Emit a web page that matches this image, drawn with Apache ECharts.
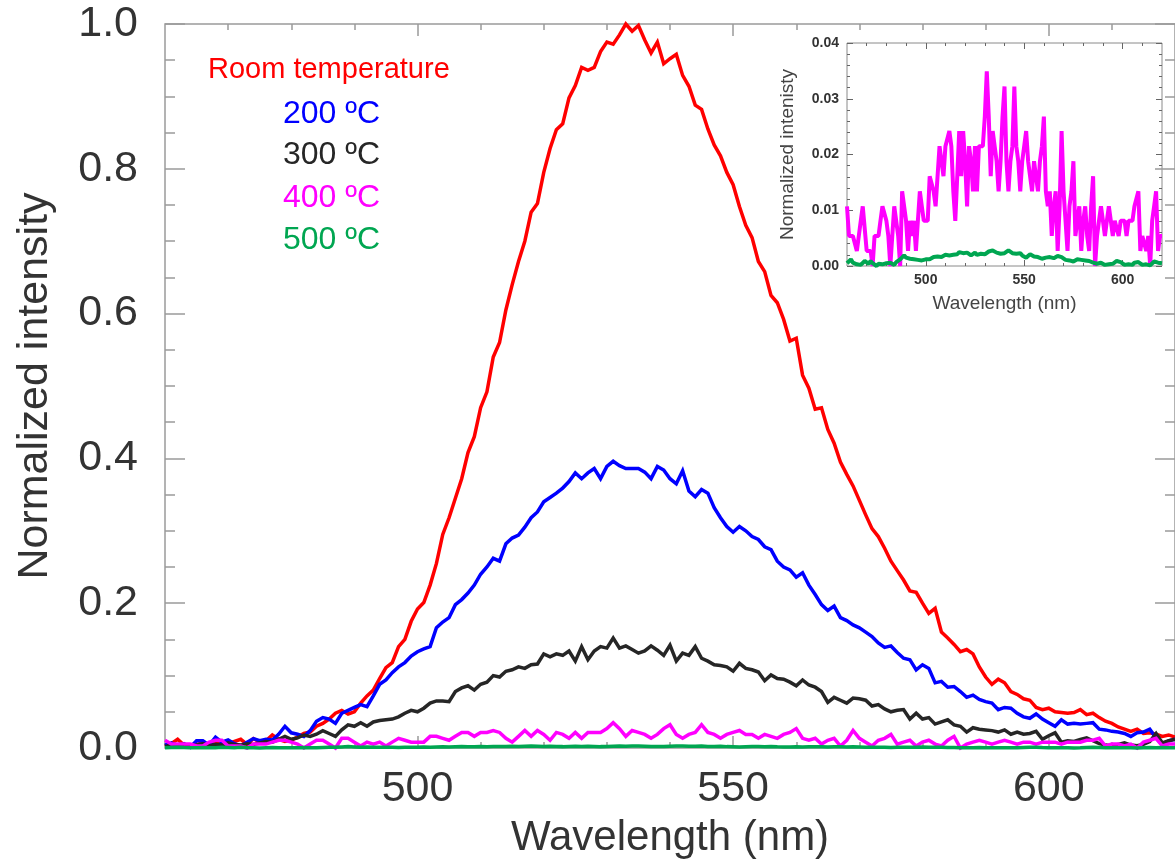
<!DOCTYPE html>
<html><head><meta charset="utf-8">
<script src="https://cdn.jsdelivr.net/npm/echarts@6/dist/echarts.min.js"></script>
<style>html,body{margin:0;padding:0;background:#fff}#c{width:1175px;height:864px}</style>
</head><body><div id="c"></div>
<script>
// wavelength sampling (nm)
const wlStart = 460, wlEnd = 620, wlStep = 1;

// Room temperature
const roomTemp = [
0.003,0.006,0.012,0.004,0.002,0.005,0.007,0.003,0.008,0.004,
0.006,0.009,0.012,0.005,0.013,0.008,0.010,0.018,0.012,0.009,
0.011,0.015,0.020,0.022,0.030,0.034,0.040,0.048,0.052,0.047,
0.050,0.062,0.072,0.080,0.096,0.111,0.118,0.140,0.150,0.175,
0.192,0.201,0.225,0.255,0.295,0.318,0.345,0.372,0.408,0.430,
0.470,0.492,0.540,0.560,0.605,0.640,0.672,0.700,0.740,0.752,
0.795,0.828,0.854,0.862,0.898,0.915,0.940,0.936,0.940,0.962,
0.975,0.972,0.985,1.000,0.990,0.998,0.978,0.960,0.975,0.945,
0.952,0.958,0.929,0.914,0.888,0.882,0.855,0.833,0.818,0.795,
0.778,0.748,0.722,0.705,0.672,0.658,0.625,0.615,0.592,0.562,
0.566,0.515,0.497,0.468,0.470,0.440,0.421,0.395,0.378,0.362,
0.342,0.322,0.303,0.292,0.276,0.258,0.245,0.232,0.217,0.215,
0.200,0.186,0.193,0.160,0.152,0.143,0.133,0.136,0.130,0.112,
0.098,0.088,0.095,0.090,0.078,0.074,0.068,0.066,0.056,0.053,
0.055,0.050,0.049,0.048,0.049,0.053,0.046,0.048,0.042,0.037,
0.034,0.029,0.026,0.023,0.026,0.020,0.021,0.019,0.016,0.018,
0.015];

// 200 ºC
const t200 = [
0.004,0.007,0.002,0.006,0.001,0.010,0.010,0.004,0.015,0.008,
0.011,0.006,0.003,0.008,0.013,0.010,0.012,0.011,0.019,0.030,
0.021,0.019,0.016,0.024,0.037,0.042,0.040,0.034,0.048,0.052,
0.056,0.060,0.057,0.072,0.088,0.094,0.104,0.112,0.118,0.127,
0.133,0.137,0.140,0.166,0.174,0.180,0.198,0.205,0.214,0.225,
0.240,0.250,0.262,0.258,0.282,0.290,0.294,0.305,0.318,0.326,
0.340,0.346,0.352,0.359,0.368,0.380,0.372,0.380,0.386,0.372,
0.389,0.396,0.390,0.386,0.386,0.386,0.381,0.372,0.389,0.384,
0.372,0.365,0.383,0.355,0.347,0.357,0.352,0.332,0.318,0.306,
0.298,0.306,0.300,0.292,0.288,0.278,0.274,0.258,0.250,0.246,
0.236,0.242,0.225,0.212,0.198,0.190,0.196,0.180,0.176,0.170,
0.166,0.160,0.154,0.145,0.139,0.141,0.132,0.124,0.122,0.108,
0.115,0.110,0.090,0.092,0.084,0.085,0.078,0.070,0.073,0.067,
0.064,0.062,0.053,0.056,0.055,0.048,0.043,0.041,0.047,0.040,
0.035,0.030,0.039,0.033,0.034,0.033,0.034,0.035,0.026,0.025,
0.023,0.022,0.020,0.016,0.021,0.022,0.026,0.014,0.004,0.010,
0.012];

// 300 ºC
const t300 = [
0.002,0.004,0.003,0.005,0.003,0.004,0.006,0.003,0.005,0.004,
0.007,0.005,0.004,0.006,0.005,0.007,0.009,0.008,0.012,0.016,
0.012,0.014,0.018,0.016,0.019,0.024,0.020,0.016,0.025,0.032,
0.030,0.035,0.030,0.036,0.038,0.039,0.040,0.043,0.048,0.052,
0.050,0.055,0.062,0.065,0.065,0.064,0.078,0.083,0.086,0.080,
0.088,0.091,0.100,0.098,0.106,0.108,0.112,0.110,0.115,0.116,
0.130,0.126,0.130,0.128,0.134,0.120,0.140,0.122,0.134,0.140,
0.138,0.152,0.138,0.141,0.136,0.131,0.134,0.141,0.135,0.128,
0.142,0.120,0.131,0.128,0.140,0.124,0.120,0.115,0.114,0.112,
0.106,0.117,0.110,0.108,0.105,0.093,0.101,0.096,0.095,0.091,
0.086,0.094,0.087,0.084,0.078,0.063,0.070,0.066,0.062,0.069,
0.068,0.066,0.058,0.060,0.054,0.050,0.052,0.053,0.040,0.048,
0.040,0.042,0.033,0.036,0.039,0.032,0.030,0.022,0.028,0.026,
0.025,0.024,0.022,0.025,0.019,0.022,0.019,0.020,0.023,0.012,
0.017,0.021,0.008,0.010,0.009,0.012,0.014,0.010,0.006,0.004,
0.003,0.005,0.007,0.004,0.003,0.005,0.009,0.020,0.007,0.010,
0.012];

// 400 ºC
const t400 = [
0.0107,0.0054,0.0054,0.0054,0.0054,0.0027,0.0027,0.0081,0.0107,0.0107,
0.0027,0.0027,0.0027,0.0000,0.0054,0.0054,0.0054,0.0081,0.0107,0.0107,
0.0081,0.0054,0.0000,0.0054,0.0107,0.0107,0.0054,0.0000,0.0134,0.0134,
0.0081,0.0027,0.0081,0.0054,0.0081,0.0027,0.0081,0.0134,0.0107,0.0081,
0.0081,0.0081,0.0161,0.0161,0.0134,0.0107,0.0161,0.0215,0.0215,0.0161,
0.0215,0.0215,0.0242,0.0215,0.0134,0.0081,0.0161,0.0242,0.0161,0.0242,
0.0188,0.0107,0.0215,0.0188,0.0134,0.0215,0.0134,0.0215,0.0215,0.0215,
0.0268,0.0349,0.0268,0.0161,0.0242,0.0215,0.0188,0.0134,0.0188,0.0268,
0.0322,0.0188,0.0134,0.0188,0.0215,0.0322,0.0215,0.0188,0.0134,0.0188,
0.0215,0.0242,0.0188,0.0188,0.0134,0.0188,0.0161,0.0134,0.0188,0.0215,
0.0268,0.0134,0.0107,0.0134,0.0054,0.0107,0.0134,0.0027,0.0107,0.0242,
0.0134,0.0081,0.0027,0.0107,0.0134,0.0188,0.0054,0.0081,0.0107,0.0027,
0.0081,0.0107,0.0054,0.0027,0.0107,0.0161,0.0000,0.0054,0.0081,0.0107,
0.0081,0.0054,0.0081,0.0107,0.0081,0.0054,0.0081,0.0081,0.0054,0.0081,
0.0081,0.0081,0.0054,0.0081,0.0081,0.0081,0.0107,0.0107,0.0134,0.0027,
0.0054,0.0054,0.0027,0.0054,0.0000,0.0081,0.0107,0.0134,0.0027,0.0054,
0.0054];

// 500 ºC
const t500 = [
0.0005,0.0008,0.0012,0.0006,0.0004,0.0003,0.0006,0.0002,0.0005,0.0009,
0.0007,0.0004,0.0009,0.0005,0.0002,0.0000,0.0004,0.0006,0.0003,0.0002,
0.0005,0.0003,0.0006,0.0004,0.0002,0.0007,0.0009,0.0012,0.0015,0.0019,
0.0015,0.0012,0.0013,0.0010,0.0012,0.0009,0.0011,0.0008,0.0010,0.0009,
0.0012,0.0014,0.0012,0.0015,0.0016,0.0013,0.0017,0.0019,0.0016,0.0018,
0.0020,0.0017,0.0019,0.0022,0.0020,0.0023,0.0021,0.0025,0.0027,0.0023,
0.0020,0.0024,0.0021,0.0019,0.0022,0.0024,0.0020,0.0023,0.0022,0.0019,
0.0021,0.0024,0.0026,0.0025,0.0028,0.0027,0.0024,0.0021,0.0022,0.0020,
0.0023,0.0026,0.0028,0.0025,0.0023,0.0026,0.0022,0.0020,0.0023,0.0019,
0.0017,0.0015,0.0018,0.0021,0.0019,0.0017,0.0020,0.0016,0.0014,0.0013,
0.0016,0.0015,0.0018,0.0016,0.0017,0.0014,0.0016,0.0018,0.0015,0.0016,
0.0013,0.0011,0.0012,0.0010,0.0011,0.0008,0.0010,0.0012,0.0009,0.0011,
0.0013,0.0010,0.0012,0.0009,0.0007,0.0006,0.0005,0.0004,0.0003,0.0006,
0.0004,0.0002,0.0005,0.0003,0.0002,0.0004,0.0006,0.0009,0.0012,0.0007,
0.0004,0.0002,0.0005,0.0003,0.0001,0.0002,0.0006,0.0009,0.0007,0.0004,
0.0002,0.0005,0.0003,0.0002,0.0001,0.0004,0.0008,0.0005,0.0006,0.0003,
0.0005];

const seriesNames = ['Room temperature', '200 ºC', '300 ºC', '400 ºC', '500 ºC'];
const xMajorTicks = [500, 550, 600];
const xMinorTicks = [470, 480, 490, 510, 520, 530, 540, 560, 570, 580, 590, 610];

// ---- styling / layout (not data) ----
const COLORS = ['#ff0000', '#0000ff', '#262626', '#ff00ff', '#00a651'];
const FONT = '"Liberation Sans", Arial, Helvetica, sans-serif';
const AX = '#9a9a9a';
const TXT = '#333333';

const wl = [];
for (let w = wlStart; w <= wlEnd + 1e-9; w += wlStep) wl.push(w);
const pairs = arr => arr.map((v, i) => [wl[i], v]);
const allSeries = [roomTemp, t200, t300, t400, t500];

function xAx(grid, pos, ticks, len, opts) {
  return Object.assign({
    type: 'value', gridIndex: grid, position: pos, min: wlStart, max: wlEnd,
    axisLine: { show: false },
    axisTick: { show: true, inside: true, length: len, customValues: ticks, lineStyle: { color: AX, width: 1.5 } },
    axisLabel: { show: false },
    splitLine: { show: false }
  }, opts || {});
}

const chart = echarts.init(document.getElementById('c'), null, { renderer: 'canvas' });
chart.setOption({
  animation: false,
  backgroundColor: '#fff',
  textStyle: { fontFamily: FONT },
  grid: [
    { left: 165, top: 24, width: 1019, height: 728, show: true, borderColor: AX, borderWidth: 1.5, backgroundColor: 'transparent' },
    { left: 847, top: 43, width: 315, height: 223, show: true, borderColor: '#8a8a8a', borderWidth: 1, backgroundColor: '#fff' }
  ],
  xAxis: [
    xAx(0, 'bottom', xMajorTicks, 12, {
      axisLabel: { show: true, customValues: xMajorTicks, fontSize: 43, color: TXT, margin: 20, fontFamily: FONT },
      name: 'Wavelength (nm)', nameLocation: 'middle', nameGap: 69,
      nameTextStyle: { fontSize: 42, color: TXT, fontFamily: FONT }
    }),
    xAx(0, 'bottom', xMinorTicks, 6),
    xAx(0, 'top', xMajorTicks, 12),
    xAx(0, 'top', xMinorTicks, 6),
    xAx(1, 'bottom', xMajorTicks, 6, {
      axisTick: { show: true, inside: true, length: 6, customValues: xMajorTicks, lineStyle: { color: '#666', width: 1 } },
      axisLabel: { show: true, customValues: xMajorTicks, fontSize: 14, fontWeight: 'bold', color: TXT, margin: 7, fontFamily: FONT },
      name: 'Wavelength (nm)', nameLocation: 'middle', nameGap: 28,
      nameTextStyle: { fontSize: 19, color: '#444', fontFamily: FONT }
    }),
    xAx(1, 'bottom', xMinorTicks, 3, { axisTick: { show: true, inside: true, length: 3, customValues: xMinorTicks, lineStyle: { color: '#666', width: 1 } } }),
    xAx(1, 'top', xMajorTicks, 6, { axisTick: { show: true, inside: true, length: 6, customValues: xMajorTicks, lineStyle: { color: '#666', width: 1 } } }),
    xAx(1, 'top', xMinorTicks, 3, { axisTick: { show: true, inside: true, length: 3, customValues: xMinorTicks, lineStyle: { color: '#666', width: 1 } } })
  ],
  yAxis: [
    {
      type: 'value', gridIndex: 0, position: 'left', min: 0, max: 1, interval: 0.2,
      axisLine: { show: false },
      axisTick: { show: true, inside: true, length: 20, lineStyle: { color: AX, width: 1.5 } },
      minorTick: { show: true, splitNumber: 4, length: 10, lineStyle: { color: AX, width: 1.5 } },
      axisLabel: { fontSize: 43, color: TXT, margin: 27, fontFamily: FONT, formatter: v => v.toFixed(1) },
      splitLine: { show: false },
      name: 'Normalized intensity', nameLocation: 'middle', nameGap: 108, nameRotate: 90,
      nameTextStyle: { fontSize: 43, color: TXT, fontFamily: FONT }
    },
    {
      type: 'value', gridIndex: 0, position: 'right', min: 0, max: 1, interval: 0.2,
      axisLine: { show: false },
      axisTick: { show: true, inside: true, length: 20, lineStyle: { color: AX, width: 1.5 } },
      minorTick: { show: true, splitNumber: 4, length: 10, lineStyle: { color: AX, width: 1.5 } },
      axisLabel: { show: false }, splitLine: { show: false }
    },
    {
      type: 'value', gridIndex: 1, position: 'left', min: 0, max: 0.04, interval: 0.01,
      axisLine: { show: false },
      axisTick: { show: true, inside: true, length: 6, lineStyle: { color: '#666', width: 1 } },
      minorTick: { show: true, splitNumber: 5, length: 3, lineStyle: { color: '#666', width: 1 } },
      axisLabel: { fontSize: 14, fontWeight: 'bold', color: TXT, margin: 8, fontFamily: FONT, formatter: v => v.toFixed(2) },
      splitLine: { show: false },
      name: 'Normalized intenisty', nameLocation: 'middle', nameGap: 50, nameRotate: 90,
      nameTextStyle: { fontSize: 19, color: '#444', fontFamily: FONT }
    },
    {
      type: 'value', gridIndex: 1, position: 'right', min: 0, max: 0.04, interval: 0.01,
      axisLine: { show: false },
      axisTick: { show: true, inside: true, length: 6, lineStyle: { color: '#666', width: 1 } },
      minorTick: { show: true, splitNumber: 5, length: 3, lineStyle: { color: '#666', width: 1 } },
      axisLabel: { show: false }, splitLine: { show: false }
    }
  ],
  series: [
    ...allSeries.map((arr, i) => ({
      type: 'line', name: seriesNames[i], xAxisIndex: 0, yAxisIndex: 0,
      data: pairs(arr), showSymbol: false, symbol: 'none', clip: false,
      lineStyle: { color: COLORS[i], width: 3.5, join: 'miter' }, z: 3 + i
    })),
    { type: 'line', name: seriesNames[3] + ' inset', xAxisIndex: 4, yAxisIndex: 2, data: pairs(t400),
      showSymbol: false, symbol: 'none', lineStyle: { color: COLORS[3], width: 4 }, z: 20 },
    { type: 'line', name: seriesNames[4] + ' inset', xAxisIndex: 4, yAxisIndex: 2, data: pairs(t500),
      showSymbol: false, symbol: 'none', lineStyle: { color: COLORS[4], width: 4 }, z: 21 }
  ],
  graphic: [
    { type: 'text', x: 208, y: 70, style: { text: seriesNames[0], fill: COLORS[0], font: '29px ' + FONT, verticalAlign: 'middle', align: 'left' } },
    { type: 'text', x: 283, y: 114, style: { text: seriesNames[1], fill: COLORS[1], font: '32px ' + FONT, verticalAlign: 'middle', align: 'left' } },
    { type: 'text', x: 283, y: 155, style: { text: seriesNames[2], fill: COLORS[2], font: '32px ' + FONT, verticalAlign: 'middle', align: 'left' } },
    { type: 'text', x: 283, y: 198, style: { text: seriesNames[3], fill: COLORS[3], font: '32px ' + FONT, verticalAlign: 'middle', align: 'left' } },
    { type: 'text', x: 283, y: 240, style: { text: seriesNames[4], fill: COLORS[4], font: '32px ' + FONT, verticalAlign: 'middle', align: 'left' } }
  ]
});
</script>
</body></html>
